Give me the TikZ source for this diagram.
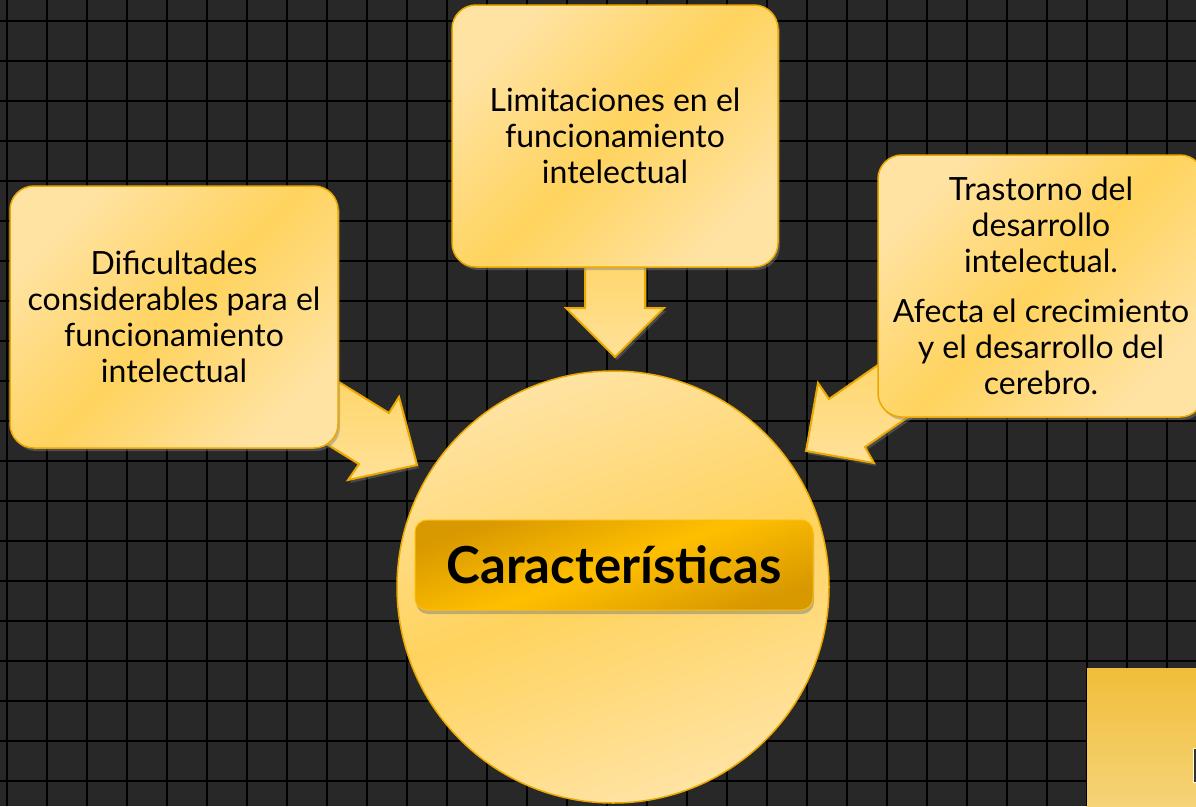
\documentclass[tikz,border=0pt]{standalone}
\usepackage{fontspec}
\setmainfont{Lato}
\usetikzlibrary{shadows}
\definecolor{bgc}{HTML}{282828}
\definecolor{blight}{HTML}{FFE3A3}
\definecolor{bmid}{HTML}{FFD35E}
\definecolor{bedge}{HTML}{EBA800}
\definecolor{cdark}{HTML}{D89800}
\definecolor{cmid}{HTML}{FFBF00}
\definecolor{alight}{HTML}{FFE199}
\definecolor{amid}{HTML}{FFD566}
\definecolor{rlight}{HTML}{F6D378}
\definecolor{rdark}{HTML}{F0BE3A}
\begin{document}
\begin{tikzpicture}[x=1pt,y=-1pt,
  gridline/.style={black,line width=1.8pt},
  box/.style={draw=bedge,line width=1.5pt,rounded corners=24pt,
    left color=blight,right color=blight,middle color=bmid,shading angle=45,
    align=center,inner sep=0pt,font=\fontsize{32}{36}\selectfont,
    drop shadow={opacity=0.45,shadow xshift=2pt,shadow yshift=-3pt}},
  blockarrow/.style={draw=bedge,line width=2pt,line join=miter,
    top color=amid,bottom color=alight,
    drop shadow={opacity=0.4,shadow xshift=2pt,shadow yshift=-3pt}},
  bigcircle/.style={circle,draw=bedge,line width=1.5pt,minimum size=432pt,inner sep=0pt,
    left color=blight,right color=blight,middle color=bmid,shading angle=20},
  titlebox/.style={draw=cmid,line width=1pt,rounded corners=12pt,
    left color=cdark,right color=cdark,middle color=cmid,shading angle=20,
    minimum width=398pt,minimum height=90pt,inner sep=0pt,
    font=\fontsize{51}{56}\selectfont\bfseries,
    drop shadow={opacity=0.5,shadow xshift=1pt,shadow yshift=-4pt}}
]
\useasboundingbox (0,0) rectangle (1196,806);
\fill[bgc] (0,0) rectangle (1196,806);
\foreach \i in {0,...,29}{%
  \pgfmathsetmacro{\gx}{7+40*\i}%
  \draw[gridline] (\gx pt,0pt) -- (\gx pt,-806pt);}
\foreach \j in {0,...,19}{%
  \pgfmathsetmacro{\gy}{21+40*\j}%
  \draw[gridline] (0pt,-\gy pt) -- (1196pt,-\gy pt);}

% corner element bottom right
\fill[top color=rdark,bottom color=rlight] (1087,668) rectangle (1196,806);
\draw[fill=black!80,draw=white!85!yellow,line width=1pt] (1193,748) rectangle (1200,782);

% arrows
\coordinate (dA1) at (585,250);
\coordinate (dA2) at (585,308);
\coordinate (dA3) at (566,308);
\coordinate (dT) at (615,357);
\coordinate (dA4) at (664,308);
\coordinate (dA5) at (645,308);
\coordinate (dA6) at (645,250);
\draw[blockarrow] (dA1) -- (dA2) -- (dA3) -- (dT) -- (dA4) -- (dA5) -- (dA6) -- cycle;

\coordinate (lA1) at (321,371);
\coordinate (lA2) at (389,413);
\coordinate (lA3) at (399,397);
\coordinate (lT) at (417,465);
\coordinate (lA4) at (348,480);
\coordinate (lA5) at (359,464);
\coordinate (lA6) at (291,422);
\draw[blockarrow] (lA1) -- (lA2) -- (lA3) -- (lT) -- (lA4) -- (lA5) -- (lA6) -- cycle;

\coordinate (rA1) at (911,342);
\coordinate (rA2) at (829,399);
\coordinate (rA3) at (818,383);
\coordinate (rT) at (806,451);
\coordinate (rA4) at (874,463);
\coordinate (rA5) at (865,447);
\coordinate (rA6) at (947,390);
\draw[blockarrow] (rA1) -- (rA2) -- (rA3) -- (rT) -- (rA4) -- (rA5) -- (rA6) -- cycle;

% boxes
\node[box,minimum width=328pt,minimum height=262pt] (left) at (174,317)
  {Dificultades\\considerables para el\\funcionamiento\\intelectual};
\node[box,minimum width=326pt,minimum height=262pt] (top) at (615,136)
  {Limitaciones en el\\funcionamiento\\intelectual};
\node[box,minimum width=326pt,minimum height=262pt] (right) at (1041,286)
  {Trastorno del\\desarrollo\\intelectual.\\[14pt]Afecta el crecimiento\\y el desarrollo del\\cerebro.};

% circle
\node[bigcircle] (circ) at (613,587) {};
\node[titlebox] (title) at (614,565) {Características};
\end{tikzpicture}
\end{document}
